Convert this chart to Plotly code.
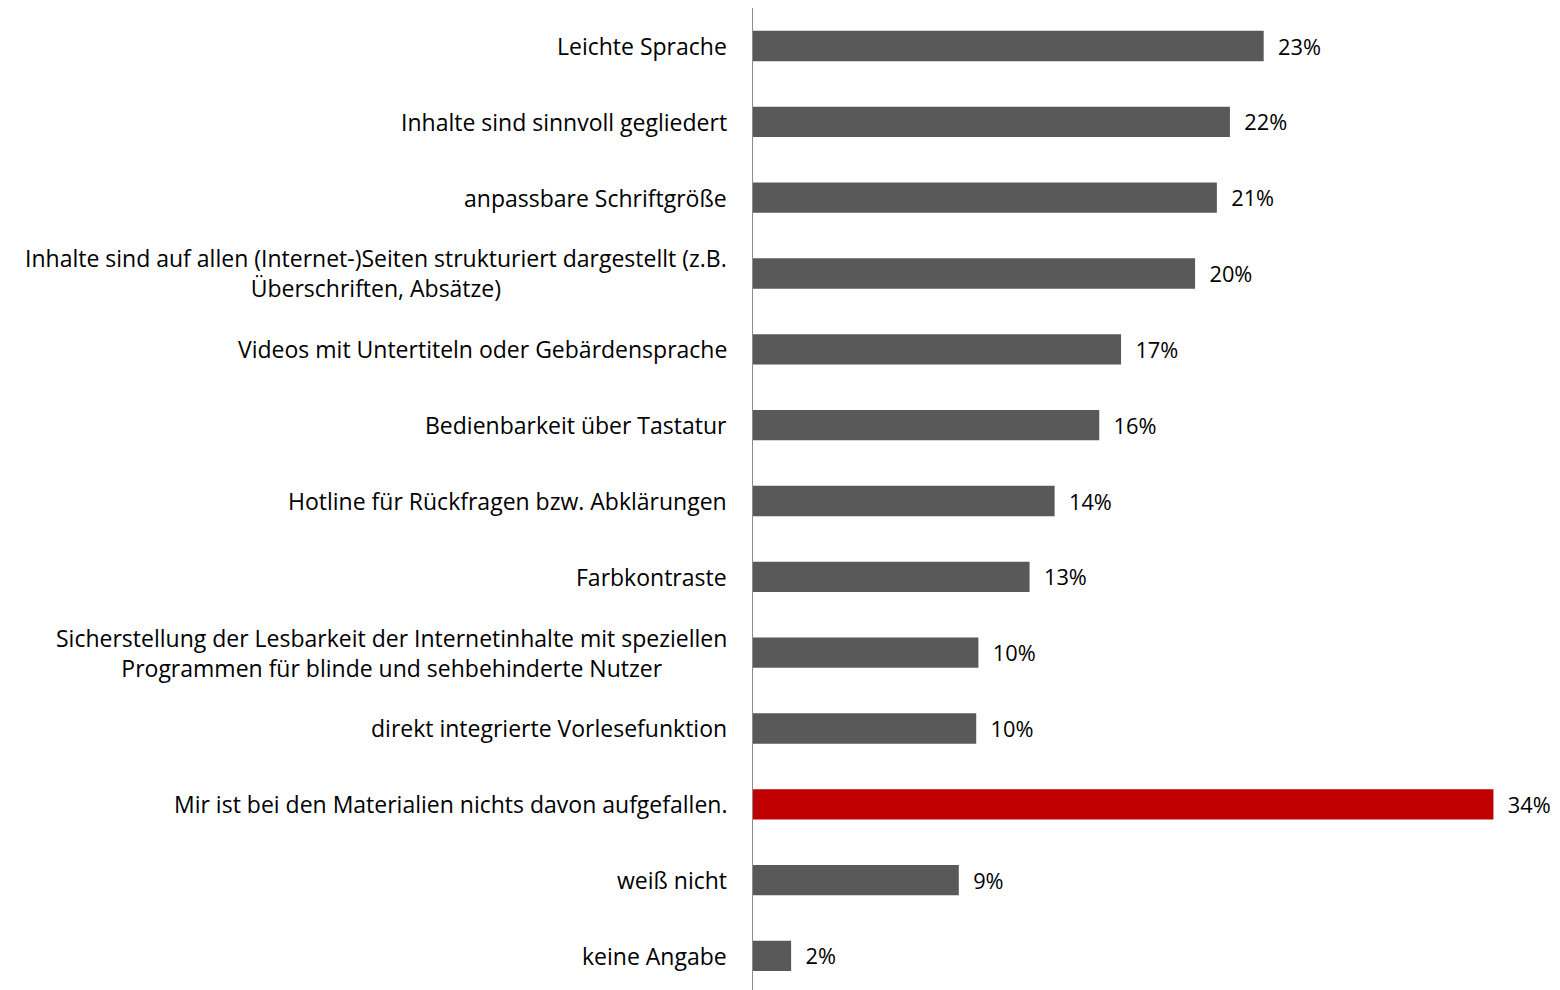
import plotly.graph_objects as go

categories = [
    "Leichte Sprache",
    "Inhalte sind sinnvoll gegliedert",
    "anpassbare Schriftgröße",
    "Inhalte sind auf allen (Internet-)Seiten strukturiert dargestellt (z.B.<br>Überschriften, Absätze)",
    "Videos mit Untertiteln oder Gebärdensprache",
    "Bedienbarkeit über Tastatur",
    "Hotline für Rückfragen bzw. Abklärungen",
    "Farbkontraste",
    "Sicherstellung der Lesbarkeit der Internetinhalte mit speziellen<br>Programmen für blinde und sehbehinderte Nutzer",
    "direkt integrierte Vorlesefunktion",
    "Mir ist bei den Materialien nichts davon aufgefallen.",
    "weiß nicht",
    "keine Angabe",
]
values = [23.45, 21.9, 21.3, 20.3, 16.9, 15.9, 13.85, 12.7, 10.35, 10.25, 34.0, 9.45, 1.75]
highlight = "Mir ist bei den Materialien nichts davon aufgefallen."

FONT = "Open Sans"
colors = ["#C00000" if c == highlight else "#595959" for c in categories]
labels = ["\u00a0\u00a0" + f"{round(v):.0f}%" for v in values]

fig = go.Figure()
fig.add_bar(
    y=list(range(len(categories))), x=values, orientation="h",
    marker=dict(color=colors, line=dict(width=0)),
    width=0.4,
    text=labels, textposition="outside", cliponaxis=False,
    textfont=dict(family=FONT, size=23, color="#000000"),
)

# category labels (centered multi-line, right-anchored next to the axis)
for i, c in enumerate(categories):
    fig.add_annotation(
        x=0, y=i, xref="x", yref="y", text=c, showarrow=False,
        xanchor="right", yanchor="middle", align="center", xshift=-24,
        font=dict(family=FONT, size=23, color="#000000"),
    )

# page body has an 8px margin, so the figure is sized to fill the rest
fig.update_layout(
    width=1552, height=982,
    margin=dict(l=745, r=23, t=0, b=0),
    plot_bgcolor="white", paper_bgcolor="white",
    showlegend=False,
    font=dict(family=FONT, size=23, color="#000000"),
)
fig.update_xaxes(range=[0, 36], visible=False)
fig.update_yaxes(
    range=[12.449, -0.501], showticklabels=False, showgrid=False, zeroline=False,
    showline=True, linecolor="#8c8c8c", linewidth=1, ticks="",
)

fig.write_html("out.html")
